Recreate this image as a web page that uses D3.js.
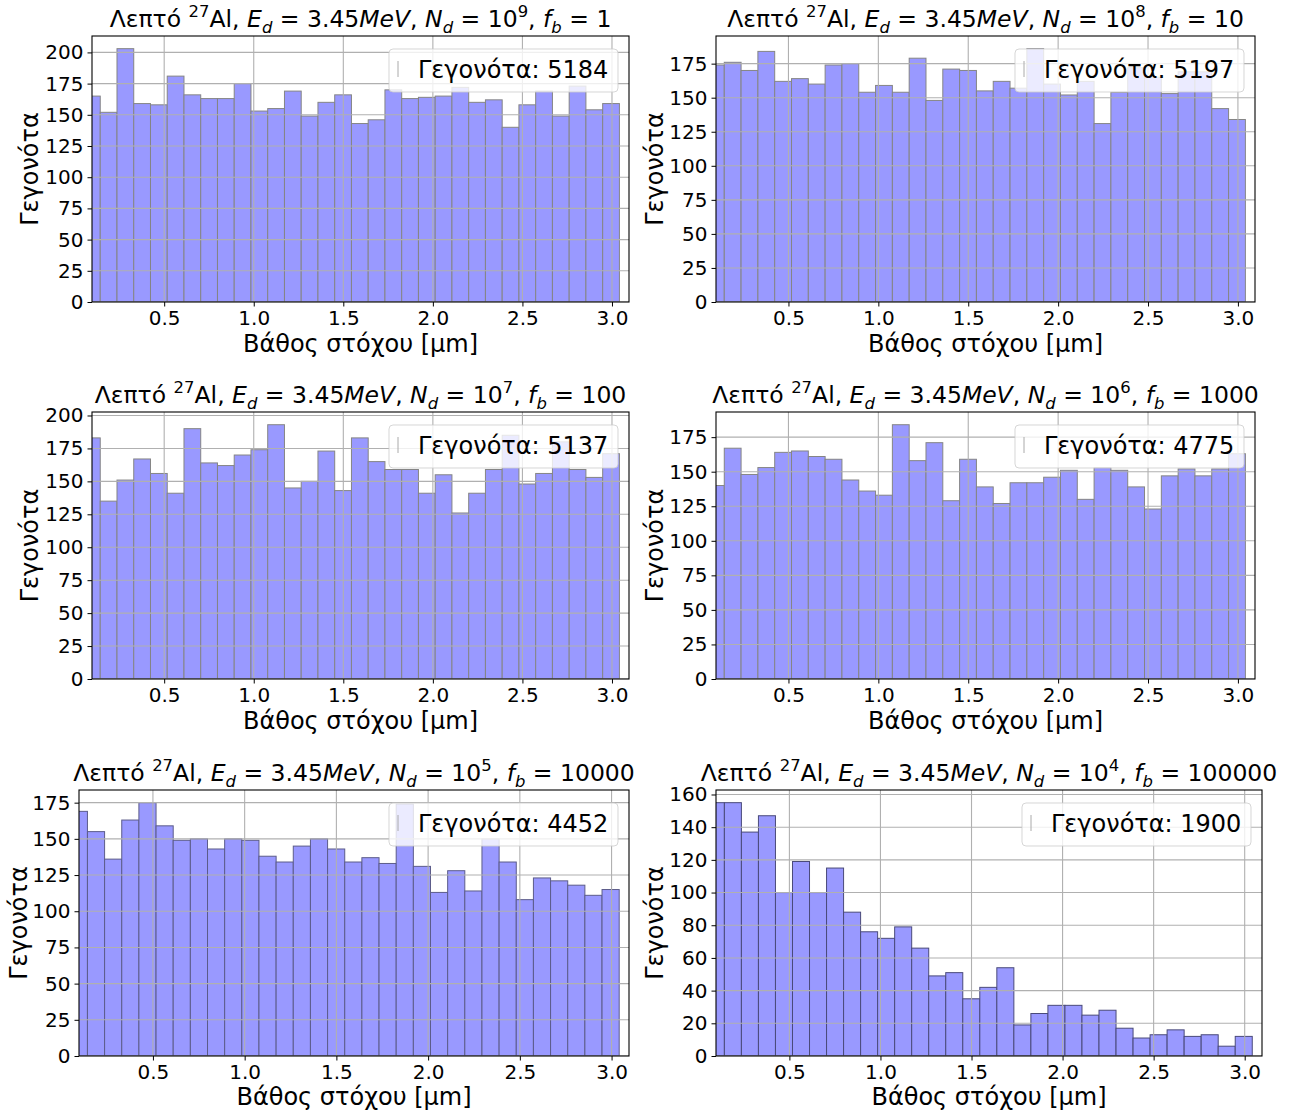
<!DOCTYPE html>
<html>
<head>
<meta charset="utf-8">
<script src="https://cdn.jsdelivr.net/npm/d3@7"></script>
<style>
  body { margin: 0; background: #fff; }
  svg { display: block; }
  text { font-family: "DejaVu Sans", sans-serif; fill: #000; }
</style>
</head>
<body>
<svg id="fig" width="1293" height="1112"></svg>
<script>
// Event counts per depth bin (32 equal bins; the first one is partly cut by the x-limit)
const countsNd9 = [165,152,203,159,158,181,166,163,163,175,153,155,169,149,160,166,143,146,170,163,164,165,172,160,162,140,158,169,149,173,154,159];
const countsNd8 = [174,176,170,184,162,164,160,174,175,154,159,154,179,148,171,170,155,162,157,186,160,152,162,131,154,172,165,153,169,169,142,134];
const countsNd7 = [183,135,151,167,156,141,190,164,162,170,174,193,145,150,173,143,183,165,159,159,141,155,126,141,159,185,148,156,180,159,153,171];
const countsNd6 = [140,167,148,153,164,165,161,159,144,136,133,184,158,171,129,159,139,127,142,142,146,151,130,153,151,139,123,147,152,147,152,163];
const countsNd5 = [169,155,136,163,175,159,149,150,143,150,149,138,134,145,150,143,134,137,133,174,131,113,128,114,150,134,108,123,121,118,111,115];
const countsNd4 = [155,155,137,147,100,119,100,115,88,76,72,79,66,49,51,35,42,54,19,26,31,31,25,28,17,11,13,16,12,13,6,12];

const allCounts = [countsNd9, countsNd8, countsNd7, countsNd6, countsNd5, countsNd4];
const ndExponents = ["9", "8", "7", "6", "5", "4"];
const fbLabels = ["1", "10", "100", "1000", "10000", "100000"];
const eventTotals = [5184, 5197, 5137, 4775, 4452, 1900];
const yTickSteps = [25, 25, 25, 25, 25, 20];
const xTickValues = [0.5, 1.0, 1.5, 2.0, 2.5, 3.0];

// Binning of the depth axis [μm]
const binStart = 0.0495;
const binWidth = 0.0935;
const xLimits = [0.097, 3.095];

// Plot-area rectangles of the 3x2 grid of axes
const frames = [
  { l: 92,  r: 629,  t: 36,  b: 302,  ylabX: 30,  xlabDy: 50 },
  { l: 716, r: 1255, t: 36,  b: 302,  ylabX: 655, xlabDy: 50 },
  { l: 92,  r: 629,  t: 412, b: 679,  ylabX: 30,  xlabDy: 50 },
  { l: 716, r: 1255, t: 412, b: 679,  ylabX: 655, xlabDy: 50 },
  { l: 79,  r: 629,  t: 790, b: 1056, ylabX: 19,  xlabDy: 49 },
  { l: 716, r: 1262, t: 790, b: 1056, ylabX: 655, xlabDy: 49 }
];
const edgeColors = ["#858585", "#858585", "#858585", "#858585", "#5c5c8a", "#4a4a7a"];

const FS = { title: 23.5, tick: 20, label: 24, legend: 24 };
const barFill = "#9999ff";
const gridColor = "#b0b0b0";

const svg = d3.select("#fig");

function addMathTitle(g, x, y, parts) {
  const t = g.append("text").attr("x", x).attr("y", y)
    .attr("text-anchor", "middle").style("font-size", FS.title + "px");
  let shift = 0;
  parts.forEach(([str, kind]) => {
    const ts = t.append("tspan").text(str);
    let target = 0;
    if (kind === "sup") { target = -0.42 * FS.title; ts.style("font-size", (FS.title * 0.7) + "px"); }
    if (kind === "sub") { target = 0.26 * FS.title; ts.style("font-size", (FS.title * 0.7) + "px").style("font-style", "italic"); }
    if (kind === "i") ts.style("font-style", "italic");
    ts.attr("dy", target - shift);
    shift = target;
  });
  if (shift !== 0) t.append("tspan").text("").attr("dy", -shift);
}

allCounts.forEach((counts, k) => {
  const f = frames[k];
  const g = svg.append("g");
  const x = d3.scaleLinear().domain(xLimits).range([f.l, f.r]);
  const yMax = d3.max(counts) * 1.05;
  const y = d3.scaleLinear().domain([0, yMax]).range([f.b, f.t]);
  const yTicks = d3.range(0, yMax + 1e-9, yTickSteps[k]);

  const clipId = "clip" + k;
  svg.append("clipPath").attr("id", clipId).append("rect")
    .attr("x", f.l).attr("y", f.t).attr("width", f.r - f.l).attr("height", f.b - f.t);

  const plot = g.append("g").attr("clip-path", `url(#${clipId})`);

  // bars
  plot.selectAll("rect.bar").data(counts).join("rect")
    .attr("class", "bar")
    .attr("x", (d, i) => x(binStart + i * binWidth))
    .attr("width", (d, i) => x(binStart + (i + 1) * binWidth) - x(binStart + i * binWidth))
    .attr("y", d => y(d))
    .attr("height", d => y(0) - y(d))
    .attr("fill", barFill)
    .attr("stroke", edgeColors[k])
    .attr("stroke-width", 1);

  // grid drawn over the bars
  plot.selectAll("line.gx").data(xTickValues).join("line")
    .attr("x1", d => x(d)).attr("x2", d => x(d))
    .attr("y1", f.t).attr("y2", f.b)
    .attr("stroke", gridColor).attr("stroke-width", 1.1);
  plot.selectAll("line.gy").data(yTicks).join("line")
    .attr("x1", f.l).attr("x2", f.r)
    .attr("y1", d => y(d)).attr("y2", d => y(d))
    .attr("stroke", gridColor).attr("stroke-width", 1.1);

  // axes
  const xAxis = d3.axisBottom(x).tickValues(xTickValues).tickFormat(d3.format(".1f"))
    .tickSize(4.5).tickPadding(4);
  const yAxis = d3.axisLeft(y).tickValues(yTicks).tickFormat(d3.format("d"))
    .tickSize(4.5).tickPadding(4);
  const gx = g.append("g").attr("transform", `translate(0,${f.b})`).call(xAxis);
  const gy = g.append("g").attr("transform", `translate(${f.l},0)`).call(yAxis);
  [gx, gy].forEach(a => {
    a.select(".domain").remove();
    a.selectAll(".tick line").attr("stroke", "#000").attr("stroke-width", 1);
    a.selectAll(".tick text").style("font-size", FS.tick + "px").attr("fill", "#000")
      .style("font-family", '"DejaVu Sans", sans-serif');
  });

  // spines
  g.append("rect").attr("x", f.l).attr("y", f.t)
    .attr("width", f.r - f.l).attr("height", f.b - f.t)
    .attr("fill", "none").attr("stroke", "#000").attr("stroke-width", 1.1);

  // legend
  const lw = 229, lh = 43;
  const lx = f.r - 11 - lw, ly = f.t + 13;
  const leg = g.append("g");
  leg.append("rect").attr("x", lx).attr("y", ly).attr("width", lw).attr("height", lh)
    .attr("rx", 4).attr("ry", 4)
    .attr("fill", "#fff").attr("fill-opacity", 0.8)
    .attr("stroke", "#cccccc").attr("stroke-opacity", 0.8).attr("stroke-width", 1);
  leg.append("line").attr("x1", lx + 9).attr("x2", lx + 9)
    .attr("y1", ly + 12).attr("y2", ly + 28)
    .attr("stroke", "#aaaaaa").attr("stroke-width", 1);
  leg.append("text").attr("x", lx + 29).attr("y", ly + 29)
    .style("font-size", FS.legend + "px")
    .text("Γεγονότα: " + eventTotals[k]);

  // title
  addMathTitle(g, (f.l + f.r) / 2, f.t - 9, [
    ["Λεπτό ", "n"], ["27", "sup"], ["Al, ", "n"],
    ["E", "i"], ["d", "sub"], [" = 3.45", "n"], ["MeV", "i"], [", ", "n"],
    ["N", "i"], ["d", "sub"], [" = 10", "n"], [ndExponents[k], "sup"], [", ", "n"],
    ["f", "i"], ["b", "sub"], [" = " + fbLabels[k], "n"]
  ]);

  // axis labels
  g.append("text").attr("x", (f.l + f.r) / 2).attr("y", f.b + f.xlabDy)
    .attr("text-anchor", "middle").style("font-size", FS.label + "px")
    .text("Βάθος στόχου [μm]");
  g.append("text")
    .attr("transform", `translate(${f.ylabX},${(f.t + f.b) / 2}) rotate(-90)`)
    .attr("text-anchor", "middle").attr("dy", "0.35em")
    .style("font-size", FS.label + "px")
    .text("Γεγονότα");
});
</script>
</body>
</html>
